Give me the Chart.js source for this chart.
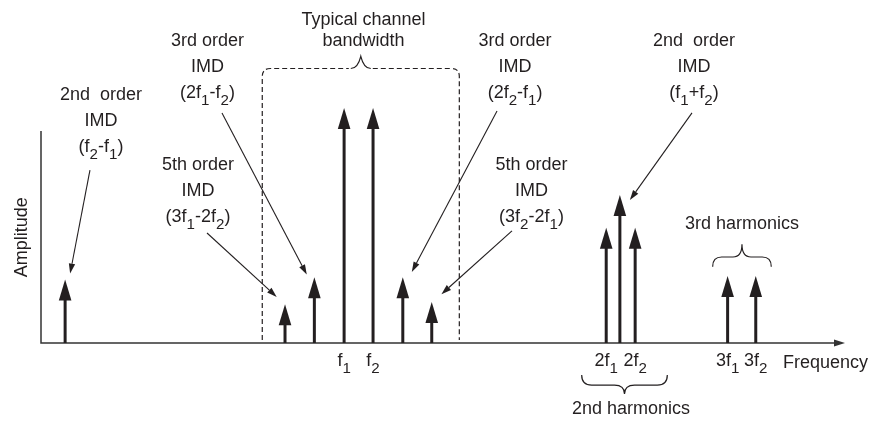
<!DOCTYPE html>
<html>
<head>
<meta charset="utf-8">
<script src="https://cdn.jsdelivr.net/npm/chart.js@4.4.0/dist/chart.umd.min.js"></script>
<style>
html,body{margin:0;padding:0;background:#fff;}
#wrap{width:881px;height:421px;position:relative;}
</style>
</head>
<body>
<div id="wrap"><canvas id="c"></canvas></div>
<script>
// ---------- DATA ----------
const components  = ["f2-f1","3f1-2f2","2f1-f2","f1","f2","2f2-f1","3f2-2f1","2f1","f1+f2","2f2","3f1","3f2"];
const frequencies = [3.0, 30.35, 34.0, 37.7, 41.3, 45.0, 48.6, 70.3, 72.0, 73.9, 85.4, 88.9];
const amplitudes  = [2.7, 1.65, 2.8, 10, 10, 2.8, 1.75, 4.9, 6.3, 4.9, 2.85, 2.85];

const tickComponents = ["f1","f2","2f1","2f2","3f1","3f2"];
const tickLabels     = ["f_1","f_2","2f_1","2f_2","3f_1","3f_2"];

const calloutTexts = [
  ["2nd  order","IMD","(f_2-f_1)"],
  ["3rd order","IMD","(2f_1-f_2)"],
  ["5th order","IMD","(3f_1-2f_2)"],
  ["3rd order","IMD","(2f_2-f_1)"],
  ["5th order","IMD","(3f_2-2f_1)"],
  ["2nd  order","IMD","(f_1+f_2)"]
];
const calloutTargets = ["f2-f1","2f1-f2","3f1-2f2","2f2-f1","3f2-2f1","f1+f2"];

const axisTitleX = "Frequency";
const axisTitleY = "Amplitude";
const bandLabel  = ["Typical channel","bandwidth"];
const harm2Label = "2nd harmonics";
const harm3Label = "3rd harmonics";

// ---------- LAYOUT (annotation placement, in scale units) ----------
const calloutAnchors = [ {x:7.46,y:10.35},{x:20.71,y:12.62},{x:19.53,y:7.38},{x:58.96,y:12.62},{x:61.01,y:7.38},{x:81.22,y:12.62} ];
const calloutStarts  = [ {x:6.09,y:7.36},{x:22.51,y:9.79},{x:20.65,y:4.68},{x:56.72,y:9.87},{x:58.58,y:4.77},{x:80.97,y:9.79} ];
const calloutEndOffsetsPx = [ [5,-6],[-7.6,-2.7],[-8.3,-7.3],[9,-5.3],[9.7,-7.7],[10,5] ];
const layoutCfg = {
  yAxisTop: 9.02,
  band: {x1:27.52, x2:52.03, yBottom:0.13, yTop:11.68, yPeak:12.2},
  bandText: {x:40.11, y:13.53},
  harm3Brace: {x1:83.54, x2:90.83, yEnd:3.25, yMid:3.66, yPeak:4.2},
  harm3Text: {x:87.19, y:4.86},
  harm2Brace: {x1:67.25, x2:77.9, yEnd:-1.36, yMid:-1.79, yPeak:-2.17},
  harm2Text: {x:73.38, y:-3.0},
  freqText: {x:92.29, y:-1.08},
  tickY: -0.98,
  ampText: {x:-1.75, y:4.5}
};

const FONT = '"Liberation Sans", Arial, sans-serif';
const INK = '#231f20';
const FS = 18;

function drawRich(ctx, text, x, y, align, size) {
  const segs = [];
  for (let i = 0; i < text.length; i++) {
    const ch = text[i];
    if (ch === '_' && i + 1 < text.length) { segs.push({t:text[i+1], sub:true}); i++; }
    else if (segs.length && !segs[segs.length-1].sub) segs[segs.length-1].t += ch;
    else segs.push({t:ch, sub:false});
  }
  const subSize = size * 0.84;
  let w = 0;
  segs.forEach(s => { ctx.font = (s.sub ? subSize : size) + 'px ' + FONT; s.w = ctx.measureText(s.t).width; w += s.w; });
  let cx = align === 'center' ? x - w/2 : (align === 'right' ? x - w : x);
  ctx.textAlign = 'left'; ctx.textBaseline = 'alphabetic';
  segs.forEach(s => {
    ctx.font = (s.sub ? subSize : size) + 'px ' + FONT;
    ctx.fillText(s.t, cx, y + (s.sub ? size*0.39 : 0));
    cx += s.w;
  });
}

function brace(ctx, x1, x2, yEnd, yMid, yPeak, r) {
  const c = (x1 + x2) / 2;
  ctx.beginPath();
  ctx.moveTo(x1, yEnd);
  ctx.quadraticCurveTo(x1, yMid, x1 + r, yMid);
  ctx.lineTo(c - r, yMid);
  ctx.quadraticCurveTo(c, yMid, c, yPeak);
  ctx.quadraticCurveTo(c, yMid, c + r, yMid);
  ctx.lineTo(x2 - r, yMid);
  ctx.quadraticCurveTo(x2, yMid, x2, yEnd);
  ctx.stroke();
}

const diagramPlugin = {
  id: 'diagram',
  afterDraw(chart) {
    const ctx = chart.ctx;
    const xs = chart.scales.x, ys = chart.scales.y;
    const px = v => xs.getPixelForValue(v), py = v => ys.getPixelForValue(v);
    const area = chart.chartArea;
    const y0 = py(0);
    const meta = chart.getDatasetMeta(0);
    ctx.save();

    // axes
    ctx.lineWidth = 1.5; ctx.strokeStyle = '#333';
    ctx.beginPath();
    ctx.moveTo(area.left, py(layoutCfg.yAxisTop)); ctx.lineTo(area.left, y0);
    ctx.lineTo(area.right - 10, y0);
    ctx.stroke();
    ctx.fillStyle = '#333';
    ctx.beginPath();
    ctx.moveTo(area.right, y0); ctx.lineTo(area.right - 11, y0 - 3.6); ctx.lineTo(area.right - 11, y0 + 3.6); ctx.closePath(); ctx.fill();

    // stems with arrowheads
    ctx.fillStyle = INK; ctx.strokeStyle = INK;
    meta.data.forEach(el => {
      const x = el.x, tip = el.y;
      const headL = 21, headW = 6.3;
      ctx.lineWidth = 3;
      ctx.beginPath(); ctx.moveTo(x, y0); ctx.lineTo(x, tip + headL - 1); ctx.stroke();
      ctx.beginPath(); ctx.moveTo(x, tip); ctx.lineTo(x - headW, tip + headL); ctx.lineTo(x + headW, tip + headL); ctx.closePath(); ctx.fill();
    });

    // channel bandwidth dashed bracket
    const b = layoutCfg.band;
    const bx1 = px(b.x1), bx2 = px(b.x2), bb = py(b.yBottom), bt = py(b.yTop), bp = py(b.yPeak), bc = (bx1 + bx2) / 2;
    ctx.lineWidth = 1.2; ctx.setLineDash([5, 3]);
    ctx.beginPath();
    ctx.moveTo(bx1, bb); ctx.lineTo(bx1, bt + 8);
    ctx.quadraticCurveTo(bx1, bt, bx1 + 8, bt);
    ctx.lineTo(bc - 12, bt);
    ctx.stroke();
    ctx.beginPath();
    ctx.moveTo(bc + 12, bt);
    ctx.lineTo(bx2 - 8, bt);
    ctx.quadraticCurveTo(bx2, bt, bx2, bt + 8);
    ctx.lineTo(bx2, bb);
    ctx.stroke();
    ctx.setLineDash([]);
    // brace peak (solid)
    ctx.beginPath();
    ctx.moveTo(bc - 10, bt);
    ctx.quadraticCurveTo(bc - 3, bt, bc, bp);
    ctx.quadraticCurveTo(bc + 3, bt, bc + 10, bt);
    ctx.stroke();

    // harmonics braces
    ctx.lineWidth = 1.2;
    const h3 = layoutCfg.harm3Brace, h2 = layoutCfg.harm2Brace;
    brace(ctx, px(h3.x1), px(h3.x2), py(h3.yEnd), py(h3.yMid), py(h3.yPeak), 9);
    brace(ctx, px(h2.x1), px(h2.x2), py(h2.yEnd), py(h2.yMid), py(h2.yPeak), 10);

    // callout pointer lines
    ctx.lineWidth = 1.1;
    calloutTargets.forEach((name, i) => {
      const el = meta.data[components.indexOf(name)];
      const sx = px(calloutStarts[i].x), sy = py(calloutStarts[i].y);
      const ex = el.x + calloutEndOffsetsPx[i][0], ey = el.y + calloutEndOffsetsPx[i][1];
      const ang = Math.atan2(ey - sy, ex - sx);
      const L = 10, W = 3.2;
      const bxp = ex - L * Math.cos(ang), byp = ey - L * Math.sin(ang);
      ctx.beginPath(); ctx.moveTo(sx, sy); ctx.lineTo(bxp, byp); ctx.stroke();
      ctx.beginPath();
      ctx.moveTo(ex, ey);
      ctx.lineTo(bxp + W * Math.sin(ang), byp - W * Math.cos(ang));
      ctx.lineTo(bxp - W * Math.sin(ang), byp + W * Math.cos(ang));
      ctx.closePath(); ctx.fill();
    });

    // callout texts
    calloutTexts.forEach((lines, i) => {
      const ax = px(calloutAnchors[i].x), ay = py(calloutAnchors[i].y);
      lines.forEach((t, j) => drawRich(ctx, t, ax, ay + j * 26, 'center', FS));
    });

    // band label and harmonics labels
    bandLabel.forEach((t, j) => drawRich(ctx, t, px(layoutCfg.bandText.x), py(layoutCfg.bandText.y) + j * 21, 'center', FS));
    drawRich(ctx, harm3Label, px(layoutCfg.harm3Text.x), py(layoutCfg.harm3Text.y), 'center', FS);
    drawRich(ctx, harm2Label, px(layoutCfg.harm2Text.x), py(layoutCfg.harm2Text.y), 'center', FS);

    // tick labels
    tickComponents.forEach((name, i) => {
      const el = meta.data[components.indexOf(name)];
      drawRich(ctx, tickLabels[i], el.x, py(layoutCfg.tickY), 'center', FS);
    });
    drawRich(ctx, axisTitleX, px(layoutCfg.freqText.x), py(layoutCfg.freqText.y), 'left', FS);

    // y axis title
    ctx.save();
    ctx.translate(px(layoutCfg.ampText.x), py(layoutCfg.ampText.y));
    ctx.rotate(-Math.PI / 2);
    drawRich(ctx, axisTitleY, 0, 0, 'center', FS);
    ctx.restore();

    ctx.restore();
  }
};

new Chart(document.getElementById('c'), {
  type: 'scatter',
  data: {
    datasets: [{
      label: 'Spectral components',
      data: frequencies.map((f, i) => ({x: f, y: amplitudes[i]})),
      pointRadius: 0,
      pointHoverRadius: 0,
      showLine: false
    }]
  },
  options: {
    responsive: true,
    maintainAspectRatio: false,
    animation: false,
    layout: { padding: { left: 41, right: 36, top: 108, bottom: 78 } },
    plugins: { legend: { display: false }, tooltip: { enabled: false } },
    scales: {
      x: { type: 'linear', min: 0, max: 100, display: false },
      y: { type: 'linear', min: 0, max: 10, display: false }
    }
  },
  plugins: [diagramPlugin]
});
</script>
</body>
</html>
